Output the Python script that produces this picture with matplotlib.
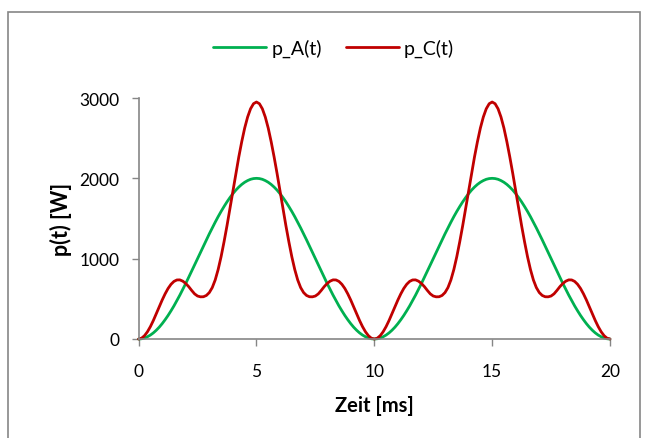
import numpy as np
import matplotlib
matplotlib.use("Agg")
import matplotlib.pyplot as plt
from matplotlib.patches import Rectangle

# time axis in ms (0 .. 20, step 0.125)
t_ms = np.linspace(0, 20, 161)

p_A = [0, 3, 12, 28, 49, 76, 109, 147, 191, 240, 293, 351, 412, 478, 546, 617, 691, 767, 844, 922,
       1000, 1079, 1156, 1234, 1309, 1383, 1454, 1523, 1588, 1649, 1707, 1760, 1809, 1853, 1891,
       1924, 1951, 1972, 1988, 1997, 2000, 1997, 1988, 1972, 1951, 1924, 1891, 1853, 1809, 1760,
       1707, 1649, 1588, 1523, 1454, 1383, 1309, 1234, 1156, 1079, 1000, 922, 844, 767, 691, 617,
       546, 478, 412, 351, 293, 240, 191, 147, 109, 76, 49, 28, 12, 3, 0,
       3, 12, 28, 49, 76, 109, 147, 191, 240, 293, 351, 412, 478, 546, 617, 691, 767, 844, 922,
       1000, 1079, 1156, 1234, 1309, 1383, 1454, 1523, 1588, 1649, 1707, 1760, 1809, 1853, 1891,
       1924, 1951, 1972, 1988, 1997, 2000, 1997, 1988, 1972, 1951, 1924, 1891, 1853, 1809, 1760,
       1707, 1649, 1588, 1523, 1454, 1383, 1309, 1234, 1156, 1079, 1000, 922, 844, 767, 691, 617,
       546, 478, 412, 351, 293, 240, 191, 147, 109, 76, 49, 28, 12, 3, 0]

p_C = [0, 10, 41, 90, 154, 230, 314, 400, 485, 562, 629, 681, 717, 735, 736, 720, 691, 652, 605,
       562, 535, 525, 526, 542, 578, 640, 735, 865, 1025, 1210, 1410, 1625, 1845, 2060, 2265,
       2455, 2625, 2763, 2866, 2929, 2950, 2929, 2866, 2763, 2625, 2455, 2265, 2060, 1845, 1625,
       1410, 1210, 1025, 865, 735, 640, 578, 542, 526, 525, 535, 562, 605, 652, 691, 720, 736,
       735, 717, 681, 629, 562, 485, 400, 314, 230, 154, 90, 41, 10, 0,
       10, 41, 90, 154, 230, 314, 400, 485, 562, 629, 681, 717, 735, 736, 720, 691, 652, 605,
       562, 535, 525, 526, 542, 578, 640, 735, 865, 1025, 1210, 1410, 1625, 1845, 2060, 2265,
       2455, 2625, 2763, 2866, 2929, 2950, 2929, 2866, 2763, 2625, 2455, 2265, 2060, 1845, 1625,
       1410, 1210, 1025, 865, 735, 640, 578, 542, 526, 525, 535, 562, 605, 652, 691, 720, 736,
       735, 717, 681, 629, 562, 485, 400, 314, 230, 154, 90, 41, 10, 0]

x_ticks = [0, 5, 10, 15, 20]
y_ticks = [0, 1000, 2000, 3000]

plt.rcParams['font.family'] = ['Lato', 'DejaVu Sans']

fig = plt.figure(figsize=(6.45, 4.39), dpi=100)
# outer chart border
fig.patches.append(Rectangle((8 / 645, -0.05), (640 - 8) / 645, 1 - 13 / 439 + 0.05,
                             transform=fig.transFigure, fill=False,
                             edgecolor='#868686', linewidth=1.2))

ax = fig.add_axes([138.6 / 645, 1 - 340 / 439, (610 - 138.6) / 645, (340 - 99) / 439])
lA, = ax.plot(t_ms, p_A, color='#00B050', linewidth=2.0, label='p_A(t)',
              solid_joinstyle='round', solid_capstyle='round')
lC, = ax.plot(t_ms, p_C, color='#C00000', linewidth=2.0, label='p_C(t)',
              solid_joinstyle='round', solid_capstyle='round')

ax.set_xlim(0, 20)
ax.set_ylim(0, 3000)
ax.set_xticks(x_ticks)
ax.set_yticks(y_ticks)
ax.tick_params(axis='both', colors='#868686', labelcolor='black', labelsize=12.5,
               length=5, width=1)
ax.tick_params(axis='x', pad=12)
ax.tick_params(axis='y', pad=9)
for s in ['top', 'right']:
    ax.spines[s].set_visible(False)
for s in ['left', 'bottom']:
    ax.spines[s].set_color('#868686')
    ax.spines[s].set_linewidth(1.2)
for l in (lA, lC):
    l.set_clip_on(False)

ax.set_xlabel('Zeit [ms]', fontsize=14.5, fontweight='bold', labelpad=12)
ax.set_ylabel('p(t) [W]', fontsize=15.5, fontweight='bold', labelpad=5)

fig.legend(handles=[lA, lC], loc='center', bbox_to_anchor=(333.5 / 645, 1 - 49 / 439),
           ncol=2, frameon=False, fontsize=14, handlelength=2.73, columnspacing=1.24,
           handletextpad=0.26)

fig.savefig('out.png', dpi=100)
